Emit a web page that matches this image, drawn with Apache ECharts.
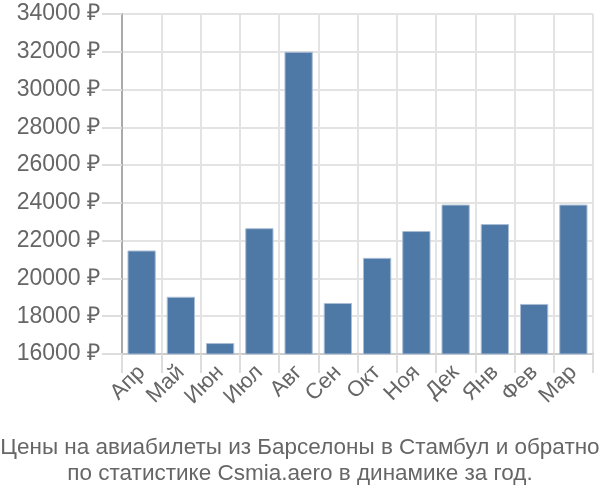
<!DOCTYPE html>
<html>
<head>
<meta charset="utf-8">
<script src="https://cdn.jsdelivr.net/npm/echarts@6/dist/echarts.min.js"></script>
<style>
  html, body { margin: 0; padding: 0; background: #fff; }
</style>
</head>
<body>
<div id="chart" style="width: 600px; height: 500px;"></div>
<script>
var months = ["Апр", "Май", "Июн", "Июл", "Авг", "Сен", "Окт", "Ноя", "Дек", "Янв", "Фев", "Мар"];
var prices = [21480, 19030, 16580, 22660, 32000, 18700, 21090, 22510, 23910, 22880, 18650, 23910];
var titleText = "Цены на авиабилеты из Барселоны в Стамбул и обратно\nпо статистике Csmia.aero в динамике за год.";

var myChart = echarts.init(document.getElementById("chart"));
var option = {
  backgroundColor: "#fff",
  animation: false,
  title: {
    text: titleText,
    left: "center",
    top: 430,
    textStyle: {
      fontFamily: "Liberation Sans",
      fontSize: 22.5,
      fontWeight: "normal",
      color: "#666",
      lineHeight: 26
    }
  },
  grid: {
    left: 122,
    right: 7,
    top: 14,
    bottom: 146
  },
  xAxis: {
    type: "category",
    data: months,
    axisLine: { show: true, lineStyle: { color: "#ccc", width: 2 } },
    axisTick: { show: true, length: 19, lineStyle: { color: "#ddd", width: 2 } },
    splitLine: { show: true, lineStyle: { color: "#e3e3e3", width: 2 } },
    axisLabel: {
      interval: 0,
      rotate: 45,
      fontFamily: "Liberation Sans",
      fontSize: 22,
      color: "#666",
      margin: 15
    }
  },
  yAxis: {
    type: "value",
    min: 16000,
    max: 34000,
    interval: 2000,
    axisLine: { show: true, lineStyle: { color: "#aaa", width: 2 } },
    axisTick: { show: true, length: 20, lineStyle: { color: "#ddd", width: 2 } },
    splitLine: { show: true, lineStyle: { color: "#e3e3e3", width: 2 } },
    axisLabel: {
      fontFamily: "Liberation Sans",
      fontSize: 23,
      color: "#666",
      margin: 22,
      formatter: function (v) { return v + " ₽"; }
    }
  },
  series: [
    {
      type: "bar",
      data: prices,
      barWidth: "72%",
      itemStyle: {
        color: "#4e79a7",
        borderColor: "#a9bdd4",
        borderWidth: 1
      }
    }
  ]
};
myChart.setOption(option);
</script>
</body>
</html>
